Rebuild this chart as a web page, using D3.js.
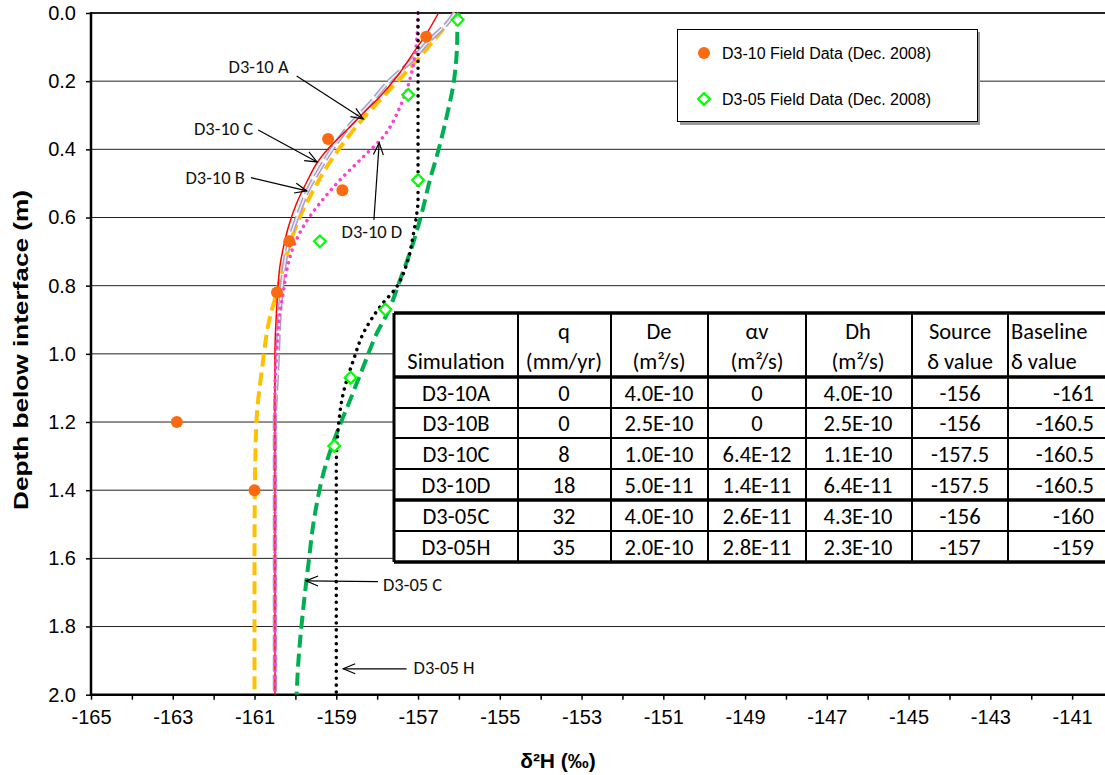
<!DOCTYPE html>
<html><head><meta charset="utf-8">
<script src="https://cdn.jsdelivr.net/npm/d3@7/dist/d3.min.js"></script>
<style>body{margin:0;background:#fff} svg{display:block}</style>
</head><body>
<svg id="c" width="1105" height="775"></svg>
<script>
// ---------- data ----------
const xTickValues = [-165,-163,-161,-159,-157,-155,-153,-151,-149,-147,-145,-143,-141];
const xMinorValues = [-164,-162,-160,-158,-156,-154,-152,-150,-148,-146,-144,-142];
const yTickValues = [0,0.2,0.4,0.6,0.8,1.0,1.2,1.4,1.6,1.8,2.0];

// simulated profiles: [delta2H, depth]
const simD310A = [[-156.1,0.0],[-156.54,0.07],[-156.95,0.128],[-157.36,0.182],[-157.85,0.245],[-158.34,0.309],[-158.83,0.382],[-159.23,0.451],[-159.6,0.529],[-159.89,0.598],[-160.13,0.676],[-160.29,0.744],[-160.46,0.822],[-160.62,0.891],[-160.82,1.047],[-160.95,1.194],[-160.99,1.39],[-161.0,1.6],[-161.0,2.0]];
const simD310B = [[-156.1,0.0],[-156.25,0.025],[-156.71,0.079],[-157.19,0.143],[-157.68,0.197],[-158.17,0.265],[-158.7,0.334],[-159.12,0.402],[-159.42,0.461],[-159.7,0.521],[-159.89,0.578],[-160.09,0.646],[-160.25,0.725],[-160.33,0.803],[-160.38,0.871],[-160.44,1.028],[-160.5,1.2],[-160.5,2.0]];
const simD310C = [[-156.5,0.0],[-156.79,0.06],[-157.07,0.109],[-157.52,0.187],[-157.93,0.245],[-158.34,0.294],[-158.74,0.343],[-159.15,0.392],[-159.46,0.438],[-159.72,0.495],[-159.97,0.558],[-160.17,0.627],[-160.29,0.686],[-160.38,0.744],[-160.43,0.813],[-160.46,0.871],[-160.5,1.0],[-160.5,2.0]];
const simD310D = [[-157.0,0.0],[-157.05,0.1],[-157.15,0.172],[-157.44,0.275],[-157.85,0.363],[-158.34,0.422],[-158.91,0.49],[-159.4,0.558],[-159.81,0.627],[-160.05,0.686],[-160.21,0.754],[-160.3,0.822],[-160.4,0.9],[-160.46,1.0],[-160.5,1.1],[-160.5,2.0]];
const simD305C = [[-156.0,0.0],[-156.03,0.02],[-156.05,0.109],[-156.13,0.206],[-156.3,0.304],[-156.5,0.402],[-156.71,0.49],[-156.91,0.588],[-157.15,0.686],[-157.44,0.783],[-157.73,0.876],[-158.01,0.94],[-158.34,1.038],[-158.66,1.135],[-158.99,1.233],[-159.27,1.331],[-159.52,1.468],[-159.68,1.615],[-159.82,1.761],[-159.93,1.908],[-159.97,2.0]];
const simD305H = [[-157.0,0.0],[-157.0,0.55],[-157.03,0.588],[-157.11,0.646],[-157.27,0.734],[-157.52,0.803],[-157.93,0.862],[-158.34,0.94],[-158.58,1.018],[-158.83,1.116],[-158.95,1.214],[-159.0,1.34],[-159.0,2.0]];

// field data
const fieldD310 = [[-156.8,0.07],[-159.2,0.37],[-158.85,0.52],[-160.15,0.67],[-160.45,0.82],[-162.9,1.2],[-161.0,1.4]];
const fieldD305 = [[-156.03,0.02],[-157.24,0.24],[-157.0,0.49],[-159.4,0.67],[-157.8,0.87],[-158.65,1.07],[-159.05,1.27]];

// table
const tableHeader1 = ["", "q", "De", "\u03B1v", "Dh", "Source", "Baseline"];
const tableHeader2 = ["Simulation", "(mm/yr)", "(m\u00B2/s)", "(m\u00B2/s)", "(m\u00B2/s)", "\u03B4 value", "\u03B4 value"];
const tableSim = ["D3-10A","D3-10B","D3-10C","D3-10D","D3-05C","D3-05H"];
const tableQ = ["0","0","8","18","32","35"];
const tableDe = ["4.0E-10","2.5E-10","1.0E-10","5.0E-11","4.0E-10","2.0E-10"];
const tableAv = ["0","0","6.4E-12","1.4E-11","2.6E-11","2.8E-11"];
const tableDh = ["4.0E-10","2.5E-10","1.1E-10","6.4E-11","4.3E-10","2.3E-10"];
const tableSource = ["-156","-156","-157.5","-157.5","-156","-157"];
const tableBaseline = ["-161","-160.5","-160.5","-160.5","-160","-159"];

// annotations (label, tail point, tip point in data coords)
const annotations = [
  {label:"D3-10 A", tail:[-159.97,0.185], tip:[-158.34,0.311]},
  {label:"D3-10 C", tail:[-160.91,0.343], tip:[-159.47,0.437]},
  {label:"D3-10 B", tail:[-161.09,0.483], tip:[-159.72,0.522]},
  {label:"D3-10 D", tail:[-158.08,0.607], tip:[-157.95,0.381]},
  {label:"D3-05 C", tail:[-157.98,1.668], tip:[-159.74,1.666]},
  {label:"D3-05 H", tail:[-157.28,1.924], tip:[-158.83,1.924]}
];

// ---------- drawing ----------
const svg = d3.select("#c");
const x = d3.scaleLinear().domain([-165,-140]).range([91,1113]);
const y = d3.scaleLinear().domain([0,2]).range([13,694.7]);
const AX = "'Liberation Sans', Arial, sans-serif";
const CAL = "Carlito, Lato, 'Open Sans', sans-serif";
const fmtX = d => String(d);
const fmtY = d => d.toFixed(1);

// gridlines
svg.append("g").selectAll("line").data(yTickValues).join("line")
  .attr("x1", x(-165)).attr("x2", 1105)
  .attr("y1", d => y(d)).attr("y2", d => y(d))
  .attr("stroke", "#222").attr("stroke-width", d => d === 0 ? 2 : 1);

// x axis
const xAxis = d3.axisBottom(x).tickValues(xTickValues).tickSize(5).tickPadding(10).tickFormat(fmtX);
const gx = svg.append("g").attr("transform", `translate(0,${y(2)})`).call(xAxis);
gx.select(".domain").remove();
gx.selectAll(".tick line").attr("stroke","#000").attr("stroke-width",1.5);
gx.selectAll("text").attr("font-family", AX).attr("font-size", 20).attr("fill","#000");
const xMinor = d3.axisBottom(x).tickValues(xMinorValues).tickSize(5).tickFormat("");
const gxm = svg.append("g").attr("transform", `translate(0,${y(2)})`).call(xMinor);
gxm.select(".domain").remove();
gxm.selectAll(".tick line").attr("stroke","#000").attr("stroke-width",1.5);
svg.append("line").attr("x1", x(-165)-1).attr("x2", 1105).attr("y1", y(2)).attr("y2", y(2))
  .attr("stroke","#000").attr("stroke-width",2.5);

// y axis
const yAxis = d3.axisLeft(y).tickValues(yTickValues).tickSize(5).tickPadding(10).tickFormat(fmtY);
const gy = svg.append("g").attr("transform", `translate(${x(-165)},0)`).call(yAxis);
gy.select(".domain").remove();
gy.selectAll(".tick line").attr("stroke","#000").attr("stroke-width",1.5);
gy.selectAll("text").attr("font-family", AX).attr("font-size", 20).attr("fill","#000");
svg.append("line").attr("x1", x(-165)).attr("x2", x(-165)).attr("y1", y(0)-1).attr("y2", y(2)+1)
  .attr("stroke","#000").attr("stroke-width",2.5);

// axis titles
svg.append("text").attr("x", 558).attr("y", 768).attr("text-anchor","middle")
  .attr("font-family", AX).attr("font-weight","bold").attr("font-size", 21)
  .text("\u03B4\u00B2H (\u2030)");
svg.append("text").attr("transform", "translate(28,350) rotate(-90)").attr("text-anchor","middle")
  .attr("font-family", AX).attr("font-weight","bold").attr("font-size", 21)
  .attr("textLength", 320).attr("lengthAdjust","spacingAndGlyphs")
  .text("Depth below interface (m)");

// lines
const line = d3.line().x(d => x(d[0])).y(d => y(d[1])).curve(d3.curveMonotoneY);
const plot = svg.append("g");
plot.append("path").datum(simD310A).attr("d", line).attr("fill","none")
  .attr("stroke","#FFC000").attr("stroke-width",4).attr("stroke-dasharray","13 6");
plot.append("path").datum(simD305C).attr("d", line).attr("fill","none")
  .attr("stroke","#00B050").attr("stroke-width",4).attr("stroke-dasharray","13 6");
plot.append("path").datum(simD310B).attr("d", line).attr("fill","none")
  .attr("stroke","#A7A0C4").attr("stroke-width",4.5).attr("stroke-dasharray","16 4");
plot.append("path").datum(simD310B).attr("d", line).attr("fill","none")
  .attr("stroke","#EEEAF6").attr("stroke-width",1.6).attr("stroke-dasharray","16 4");
plot.append("path").datum(simD310C).attr("d", line).attr("fill","none")
  .attr("stroke","#FF0000").attr("stroke-width",1.5);
plot.append("path").datum(simD310D).attr("d", line).attr("fill","none")
  .attr("stroke","#FF3FCF").attr("stroke-width",3.5).attr("stroke-linecap","round").attr("stroke-dasharray","0.1 6.5");
plot.append("path").datum(simD305H).attr("d", line).attr("fill","none")
  .attr("stroke","#000").attr("stroke-width",3.5).attr("stroke-linecap","round").attr("stroke-dasharray","0.1 6.8");

// field markers
const diamond = d3.symbol().type(d3.symbolSquare).size(70);
plot.append("g").selectAll("circle").data(fieldD310).join("circle")
  .attr("cx", d => x(d[0])).attr("cy", d => y(d[1])).attr("r", 6).attr("fill","#FA6A10");
plot.append("g").selectAll("path").data(fieldD305).join("path")
  .attr("d", diamond).attr("transform", d => `translate(${x(d[0])},${y(d[1])}) rotate(45)`)
  .attr("fill","#fff").attr("stroke","#00FF00").attr("stroke-width",2.2);

// annotations
const defs = svg.append("defs");
defs.append("marker").attr("id","arr").attr("markerUnits","userSpaceOnUse")
  .attr("markerWidth",16).attr("markerHeight",12).attr("refX",13).attr("refY",6).attr("orient","auto")
  .append("path").attr("d","M1,1 L13,6 L1,11").attr("fill","none").attr("stroke","#000").attr("stroke-width",1.2);
const ann = svg.append("g");
annotations.forEach(a => {
  ann.append("line").attr("x1", x(a.tail[0])).attr("y1", y(a.tail[1]))
    .attr("x2", x(a.tip[0])).attr("y2", y(a.tip[1]))
    .attr("stroke","#000").attr("stroke-width",1.2).attr("marker-end","url(#arr)");
});
const annText = [
  {i:0, dx:-8, dy:-3, anchor:"end"},
  {i:1, dx:-5, dy:5, anchor:"end"},
  {i:2, dx:-6, dy:6, anchor:"end"},
  {i:3, dx:-2, dy:18, anchor:"middle"},
  {i:4, dx:5, dy:9, anchor:"start"},
  {i:5, dx:7, dy:5, anchor:"start"}
];
annText.forEach(t => {
  const a = annotations[t.i];
  ann.append("text").attr("x", x(a.tail[0]) + t.dx).attr("y", y(a.tail[1]) + t.dy)
    .attr("text-anchor", t.anchor).attr("font-family", CAL).attr("font-size", 18.5).attr("fill","#111")
    .text(a.label);
});

// legend
const lg = svg.append("g");
lg.append("rect").attr("x",680).attr("y",32).attr("width",300).attr("height",93).attr("fill","#999");
lg.append("rect").attr("x",677.5).attr("y",29.5).attr("width",300).attr("height",92).attr("fill","#fff").attr("stroke","#000").attr("stroke-width",1);
lg.append("circle").attr("cx",704).attr("cy",53).attr("r",6).attr("fill","#FA6A10");
lg.append("path").attr("d", diamond).attr("transform","translate(704,99) rotate(45)")
  .attr("fill","#fff").attr("stroke","#00FF00").attr("stroke-width",2.2);
lg.append("text").attr("x",722).attr("y",59).attr("font-family",AX).attr("font-size",16).text("D3-10 Field Data (Dec. 2008)");
lg.append("text").attr("x",722).attr("y",105).attr("font-family",AX).attr("font-size",16).text("D3-05 Field Data (Dec. 2008)");

// table
const colEdges = [394, 518, 611, 708, 806, 912, 1008, 1108];
const rowEdges = [313, 377, 408, 438, 469, 500, 531, 562];
const tb = svg.append("g");
tb.append("rect").attr("x", colEdges[0]).attr("y", rowEdges[0]).attr("width", colEdges[7]-colEdges[0]).attr("height", rowEdges[7]-rowEdges[0]).attr("fill","#fff");
rowEdges.forEach((ry, i) => {
  const thick = (i === 0 || i === 1 || i === 5 || i === 7);
  tb.append("line").attr("x1", colEdges[0]).attr("x2", colEdges[7]).attr("y1", ry).attr("y2", ry)
    .attr("stroke","#000").attr("stroke-width", thick ? 3.5 : 2.2);
});
colEdges.forEach((cx, i) => {
  tb.append("line").attr("x1", cx).attr("x2", cx).attr("y1", rowEdges[0]).attr("y2", rowEdges[7])
    .attr("stroke","#000").attr("stroke-width", i === 0 ? 3 : 2);
});
const colCenters = [456, 564, 659, 757, 858, 960, 1068];
const TF = 22.5;
tableHeader1.forEach((t, i) => {
  if (!t) return;
  const isBase = i === 6;
  tb.append("text").attr("x", isBase ? colEdges[6]+3 : colCenters[i]).attr("y", 339)
    .attr("text-anchor", isBase ? "start" : "middle").attr("font-family", CAL).attr("font-size", TF).text(t);
});
tableHeader2.forEach((t, i) => {
  const isBase = i === 6;
  tb.append("text").attr("x", isBase ? colEdges[6]+3 : colCenters[i]).attr("y", 369)
    .attr("text-anchor", isBase ? "start" : "middle").attr("font-family", CAL).attr("font-size", TF).text(t);
});
const cols = [tableSim, tableQ, tableDe, tableAv, tableDh, tableSource, tableBaseline];
cols.forEach((col, ci) => {
  col.forEach((v, ri) => {
    const cy = (rowEdges[ri+1] + rowEdges[ri+2]) / 2;
    tb.append("text").attr("x", ci === 6 ? 1094 : colCenters[ci]).attr("y", cy + 8)
      .attr("text-anchor", ci === 6 ? "end" : "middle").attr("font-family", CAL).attr("font-size", TF).text(v);
  });
});
</script>
</body></html>
